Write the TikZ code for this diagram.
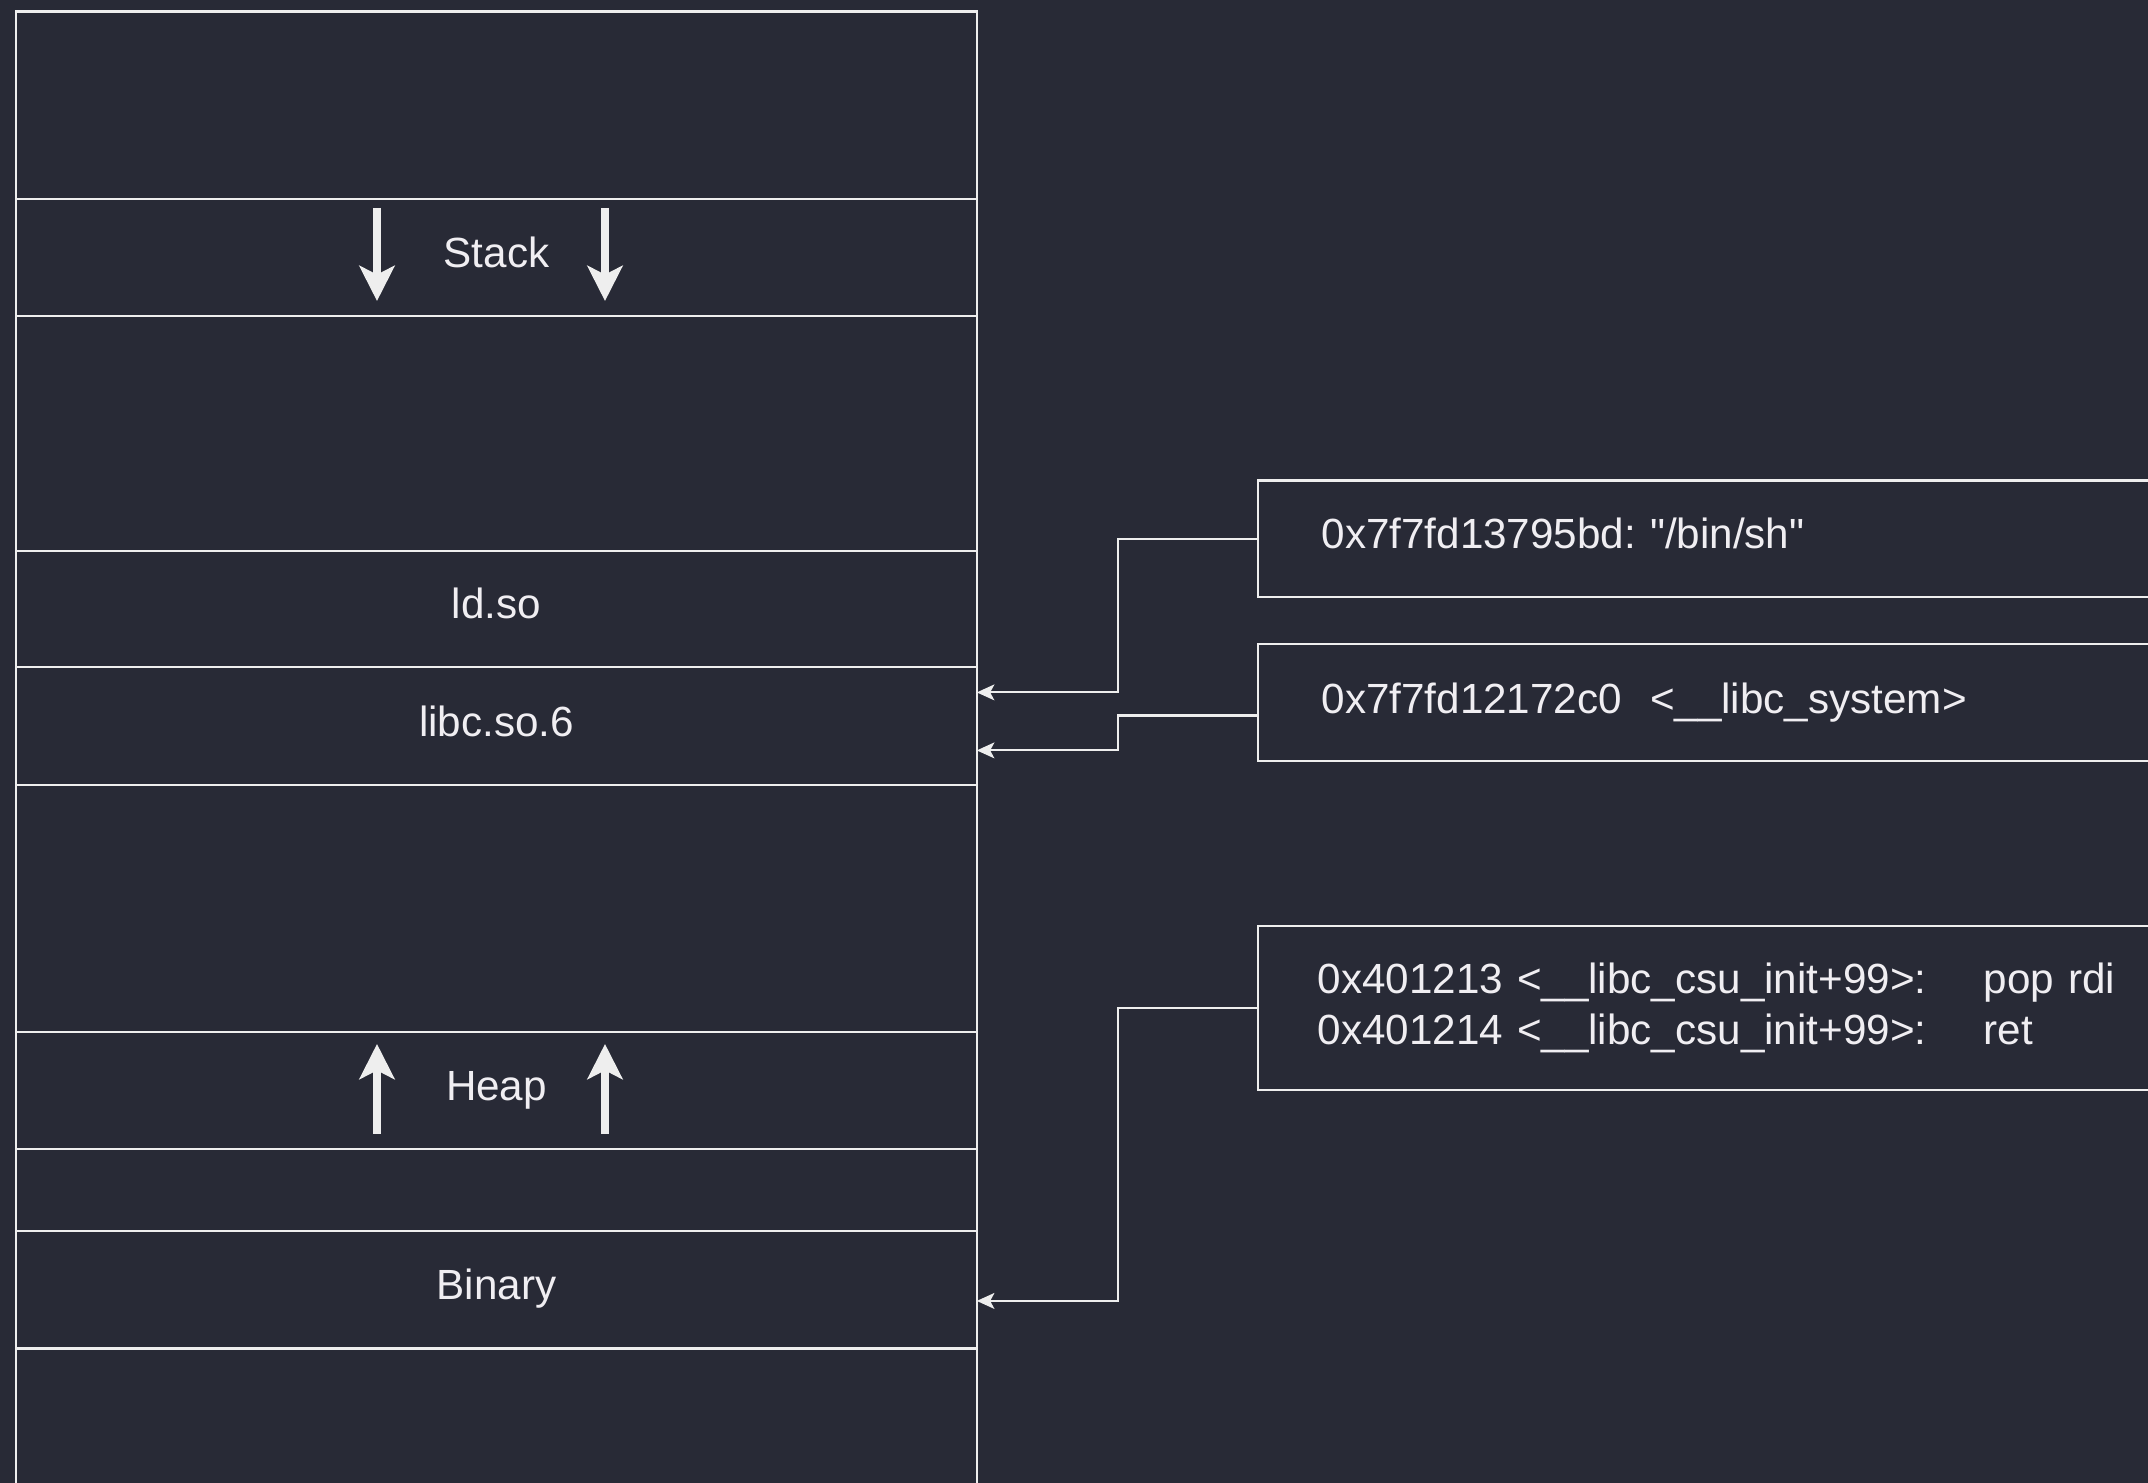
\documentclass[tikz,border=0pt]{standalone}
\usepackage{fontspec}
\setmainfont{Liberation Sans}[Ligatures=TeXOff]
\frenchspacing
\usetikzlibrary{positioning,arrows.meta,calc}
\definecolor{bgdark}{HTML}{282A36}
\definecolor{memline}{HTML}{EEEEEE}
\definecolor{memtext}{HTML}{F0EEF2}

\begin{document}
\begin{tikzpicture}[x=0.01cm,y=-0.01cm,
  every node/.style={font=\fontsize{12}{14.5}\selectfont,text=memtext},
  region/.style={draw=memline,line width=0.6pt,minimum width=9.6cm,inner sep=0pt,outer sep=0pt,text height=0.75em,text depth=0.2em},
  gadget/.style={draw=memline,line width=0.6pt,text width=8.72cm,inner xsep=0.64cm,inner ysep=0pt,align=left,anchor=west,outer sep=0pt},
  growarrow/.style={draw=memline,line width=2pt,-{Stealth[length=10pt,width=10pt,inset=2.5pt]}},
  ptr/.style={draw=memline,line width=0.6pt,-{Stealth[length=5pt,width=4.5pt,inset=1.2pt]}}]

\useasboundingbox (0,0) rectangle (2148,1483);
\fill[bgdark] (0,0) rectangle (2148,1483);
\clip (0,0) rectangle (2148,1483);

% memory map, top to bottom
\node[region,minimum height=1.875cm,anchor=north] (top) at (496.5,11.5) {};
\node[region,minimum height=1.167cm,below=0pt of top] (stack) {Stack};
\node[region,minimum height=2.35cm,below=0pt of stack] (gapa) {};
\node[region,minimum height=1.163cm,below=0pt of gapa] (ldso) {ld.so};
\node[region,minimum height=1.18cm,below=0pt of ldso] (libc) {libc.so.6};
\node[region,minimum height=2.467cm,below=0pt of libc] (gapb) {};
\node[region,minimum height=1.163cm,below=0pt of gapb] (heap) {Heap};
\node[region,minimum height=0.827cm,below=0pt of heap] (gapc) {};
\node[region,minimum height=1.17cm,below=0pt of gapc] (binary) {Binary};
\node[region,minimum height=1.5cm,below=0pt of binary] (bottom) {};

% growth directions
\draw[growarrow] (377,208) -- (377,301);
\draw[growarrow] (605,208) -- (605,301);
\draw[growarrow] (377,1134) -- (377,1044);
\draw[growarrow] (605,1134) -- (605,1044);

% gadgets
\node[gadget,minimum height=1.168cm,text height=0.75em,text depth=0.2em] (binsh) at (1257.6,539) {0x7f7fd13795bd: "/bin/sh"};
\node[gadget,minimum height=1.17cm] (system) at (1257.6,702.5) {0x7f7fd12172c0\ \ <\_\_libc\_system>};
\node[gadget,minimum height=1.645cm,inner xsep=0.6cm] (poprdi) at (1257.6,1008)
  {\makebox[6.66cm][l]{0x401213 <\_\_libc\_csu\_init+99>:}pop rdi\\
   \makebox[6.66cm][l]{0x401214 <\_\_libc\_csu\_init+99>:}ret};

\draw[ptr] (binsh.west) -- ++(-140,0) |- ($(libc.east)+(0,-34)$);
\draw[ptr] ($(system.west)+(0,13)$) -- ++(-140,0) |- ($(libc.east)+(0,24)$);
\draw[ptr] (poprdi.west) -- ++(-140,0) |- ($(binary.east)+(0,11)$);
\end{tikzpicture}
\end{document}
